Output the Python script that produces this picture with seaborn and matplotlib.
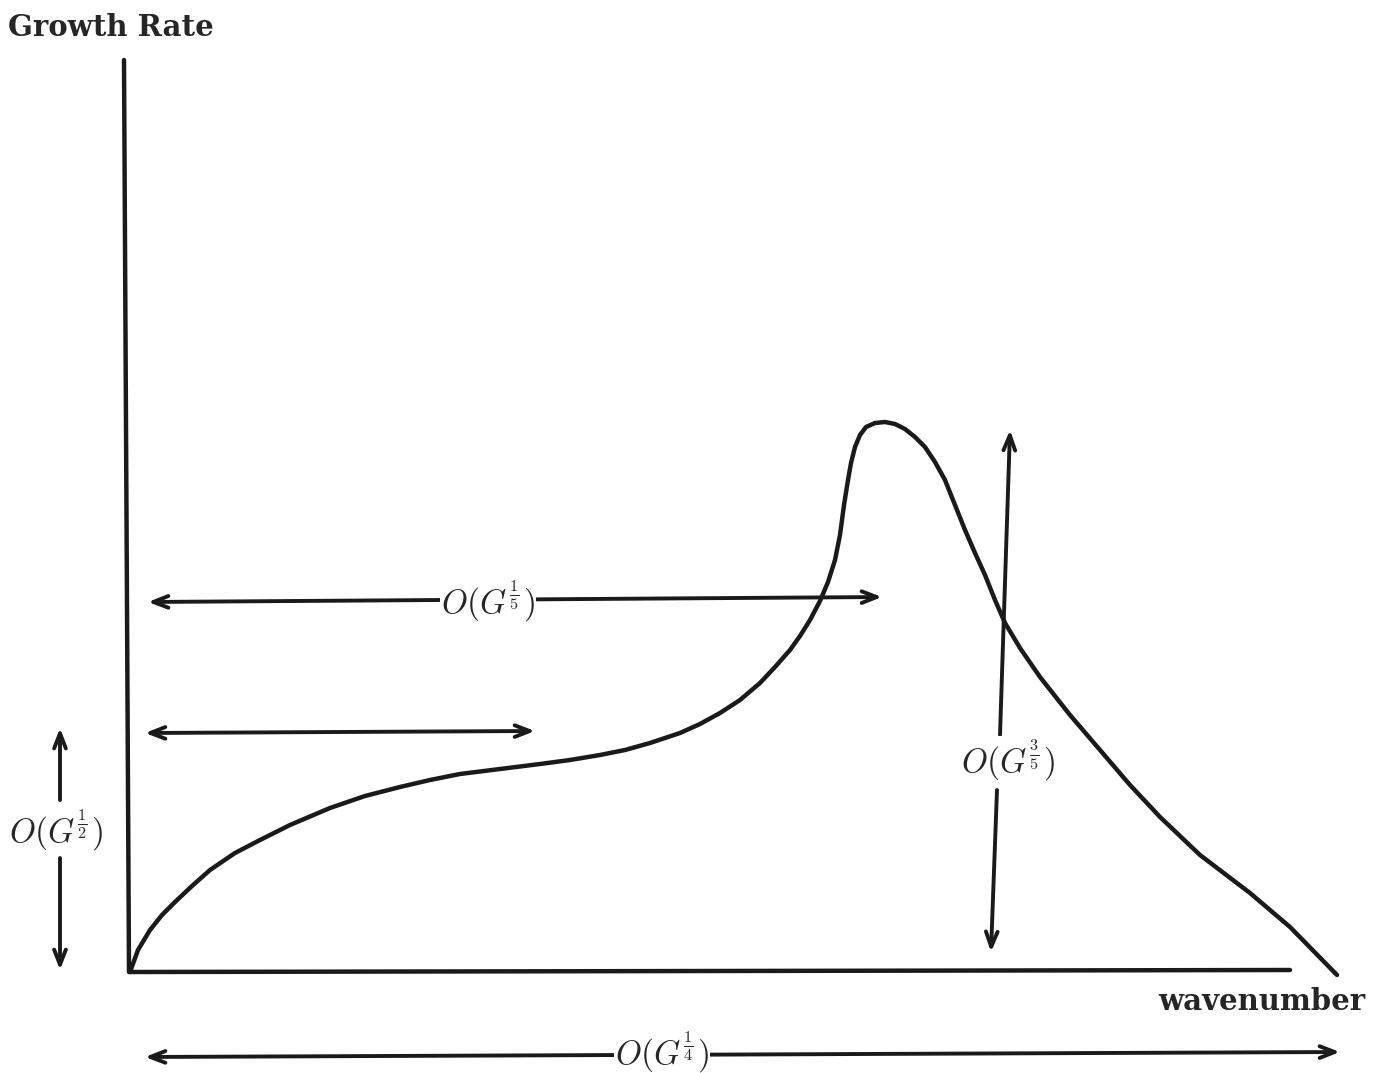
import numpy as np
import matplotlib.pyplot as plt
import seaborn as sns
sns.set_theme(style="white")
plt.rcParams['mathtext.fontset'] = 'cm'
plt.rcParams['font.family'] = ['DejaVu Serif']

# sketch coordinates (pixel-like units, y measured downwards)
curve_x = [130, 138, 150, 162, 175, 192, 210, 235, 260, 290, 330, 365, 400, 430,
           460, 500, 540, 570, 600, 625, 650, 680, 700, 720, 740, 760, 775, 790,
           800, 810, 820, 828, 835, 840, 844, 848, 851, 855, 860, 866, 875, 885,
           895, 905, 915, 925, 935, 945, 955, 965, 975, 985, 995, 1005, 1020,
           1040, 1070, 1100, 1130, 1160, 1200, 1250, 1290, 1337]
curve_y = [972, 950, 930, 915, 902, 886, 870, 853, 840, 825, 808, 796, 787, 780,
           774, 769, 764, 760, 755, 750, 743, 733, 724, 713, 700, 683, 667, 650,
           636, 620, 601, 582, 560, 535, 505, 480, 463, 447, 435, 427, 423, 422,
           424, 429, 437, 447, 462, 480, 505, 530, 553, 575, 600, 623, 648,
           677, 715, 750, 785, 817, 855, 893, 927, 975]

axis_x = [124, 129, 1290]
axis_y = [60, 972, 970]

# double arrows: (x0, y0, x1, y1)
h_arrows = [(148, 602, 882, 597), (145, 733, 535, 731), (145, 1057, 1340, 1052)]
v_arrows = [(60, 800, 60, 728), (60, 858, 60, 970),
            (1000, 735, 1010, 430), (997, 790, 991, 952)]

labels = [r"$O(G^{\frac{1}{5}})$", r"$O(G^{\frac{3}{5}})$",
          r"$O(G^{\frac{1}{2}})$", r"$O(G^{\frac{1}{4}})$"]
label_x = [488, 1008, 56, 662]
label_y = [601, 760, 830, 1052]

fig = plt.figure(figsize=(13.73, 10.73), dpi=100)
ax = fig.add_axes([0, 0, 1, 1])

sns.lineplot(x=axis_x, y=axis_y, color='k', lw=3.2, sort=False, ax=ax)
sns.lineplot(x=curve_x, y=curve_y, color='k', lw=3.2, sort=False, ax=ax,
             solid_joinstyle='round', solid_capstyle='round')

for x0, y0, x1, y1 in h_arrows:
    ax.annotate("", xy=(x1, y1), xytext=(x0, y0),
                arrowprops=dict(arrowstyle="<->,head_length=0.9,head_width=0.35",
                                color='k', lw=2.8, shrinkA=0, shrinkB=0))
for x0, y0, x1, y1 in v_arrows:
    ax.annotate("", xy=(x1, y1), xytext=(x0, y0),
                arrowprops=dict(arrowstyle="->,head_length=0.9,head_width=0.35",
                                color='k', lw=2.8, shrinkA=0, shrinkB=0))

for s, x, y in zip(labels, label_x, label_y):
    ax.text(x, y, s, fontsize=24, ha='center', va='center',
            bbox=dict(facecolor='white', edgecolor='none', pad=1))

ax.text(8, 28, "Growth Rate", fontsize=21, fontweight='bold', ha='left', va='center')
ax.text(1365, 1002, "wavenumber", fontsize=21, fontweight='bold', ha='right', va='center')

ax.set_xlim(0, 1373)
ax.set_ylim(1073, 0)
ax.axis('off')
plt.savefig('out.png', dpi=100)
